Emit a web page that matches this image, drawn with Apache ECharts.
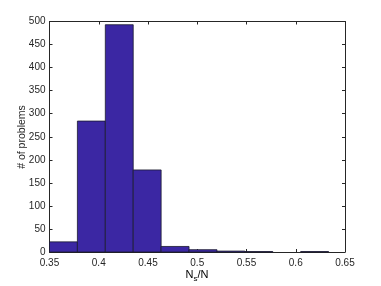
<!DOCTYPE html>
<html><head><meta charset="utf-8">
<script src="https://cdn.jsdelivr.net/npm/echarts@6/dist/echarts.min.js"></script>
<style>html,body{margin:0;padding:0;background:#fff}#c{width:381px;height:286px}</style>
</head><body><div id="c"></div>
<script>
var binEdges = [0.35, 0.37833, 0.40667, 0.435, 0.46333, 0.49167, 0.52, 0.54833, 0.57667, 0.605, 0.63333];
var counts = [22, 284, 493, 178, 12, 5, 2, 1, 0, 1];
var xTicks = [0.35, 0.4, 0.45, 0.5, 0.55, 0.6, 0.65];
var yTicks = [0, 50, 100, 150, 200, 250, 300, 350, 400, 450, 500];

var data = counts.map(function (c, i) { return [binEdges[i], binEdges[i + 1], c]; });
var font = 'Liberation Sans, Arial, sans-serif';
var axCol = '#262626';
var chart = echarts.init(document.getElementById('c'));
function xAx(pos, show) {
  return {
    type: 'value', position: pos, min: xTicks[0], max: xTicks[xTicks.length - 1], interval: 0.05,
    axisLine: { show: true, onZero: false, lineStyle: { color: axCol, width: 1 } },
    axisTick: { show: true, inside: true, length: 3, lineStyle: { color: axCol } },
    axisLabel: { show: show, color: axCol, fontFamily: font, fontSize: 10, margin: 6,
      formatter: function (v) { return String(Math.round(v * 100) / 100); } },
    splitLine: { show: false }
  };
}
function yAx(pos, show) {
  return {
    type: 'value', position: pos, min: yTicks[0], max: yTicks[yTicks.length - 1], interval: 50,
    axisLine: { show: true, onZero: false, lineStyle: { color: axCol, width: 1 } },
    axisTick: { show: true, inside: true, length: 3, lineStyle: { color: axCol } },
    axisLabel: { show: show, color: axCol, fontFamily: font, fontSize: 10, margin: 4 },
    splitLine: { show: false }
  };
}
chart.setOption({
  animation: false,
  grid: { left: 49.5, right: 36, top: 21.5, bottom: 34 },
  xAxis: [xAx('bottom', true), xAx('top', false)],
  yAxis: [yAx('left', true), yAx('right', false)],
  graphic: [
    { type: 'text', rotation: Math.PI / 2, x: 22, y: 137,
      style: { text: '# of problems', fill: axCol, font: '10.5px ' + font, textAlign: 'center', textVerticalAlign: 'middle' } },
    { type: 'text', x: 197, y: 275,
      style: { text: '{n|N}{s|s}{n|/N}', textAlign: 'center', textVerticalAlign: 'middle',
        rich: { n: { fontSize: 11, fontFamily: font, color: axCol },
                s: { fontSize: 8, fontFamily: font, color: axCol, verticalAlign: 'bottom', padding: [7, 0, 0, 0] } } } }
  ],
  series: [{
    type: 'custom',
    data: data,
    encode: { x: [0, 1], y: 2 },
    renderItem: function (params, api) {
      var p0 = api.coord([api.value(0), 0]);
      var p1 = api.coord([api.value(1), api.value(2)]);
      if (api.value(2) <= 0) return null;
      return {
        type: 'rect',
        shape: { x: p0[0], y: p1[1], width: p1[0] - p0[0], height: p0[1] - p1[1] },
        style: { fill: '#3b27a3', stroke: '#1a1a2e', lineWidth: 0.8 }
      };
    }
  }]
});
</script></body></html>
